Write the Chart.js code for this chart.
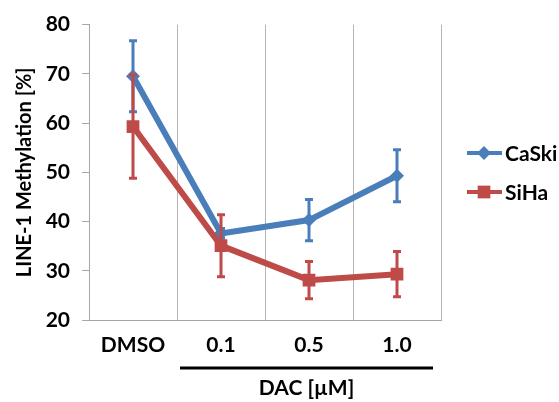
<!DOCTYPE html>
<html>
<head>
<meta charset="utf-8">
<script src="https://cdn.jsdelivr.net/npm/chart.js@4"></script>
<style>
  html, body { margin: 0; padding: 0; background: #fff; }
  #wrap { width: 559px; height: 402px; }
</style>
</head>
<body>
<div id="wrap"><canvas id="chart"></canvas></div>
<script>
// data
const categories = ['DMSO', '0.1', '0.5', '1.0'];
const caskiValues = [69.5, 37.6, 40.3, 49.3];
const caskiErrors = [7.2, 1.0, 4.2, 5.3];
const sihaValues = [59.3, 35.1, 28.1, 29.3];
const sihaErrors = [10.5, 6.3, 3.8, 4.6];
const seriesNames = ['CaSki', 'SiHa'];
const yTicks = [20, 30, 40, 50, 60, 70, 80];

const BLUE = '#4A7EBB';
const RED = '#BE4B48';
const FONT = 'Lato, "Open Sans", sans-serif';

// error bars, drawn through the y scale
const errorBars = {
  id: 'errorBars',
  afterDatasetDraw(chart, args) {
    const ds = chart.data.datasets[args.index];
    const errs = ds.errors;
    if (!errs) return;
    const { ctx } = chart;
    const y = chart.scales.y;
    ctx.save();
    ctx.strokeStyle = ds.borderColor;
    ctx.lineWidth = 3;
    args.meta.data.forEach((pt, i) => {
      const v = ds.data[i];
      const top = y.getPixelForValue(v + errs[i]);
      const bot = y.getPixelForValue(v - errs[i]);
      ctx.beginPath();
      ctx.moveTo(pt.x, top); ctx.lineTo(pt.x, bot);
      ctx.moveTo(pt.x - 4, top); ctx.lineTo(pt.x + 4, top);
      ctx.moveTo(pt.x - 4, bot); ctx.lineTo(pt.x + 4, bot);
      ctx.stroke();
    });
    ctx.restore();
  }
};

// legend on the right plus the DAC bracket under the axis
const extras = {
  id: 'extras',
  afterDraw(chart) {
    const { ctx, chartArea } = chart;
    const x = chart.scales.x;
    ctx.save();
    ctx.font = 'bold 21px ' + FONT;
    ctx.textBaseline = 'middle';
    ctx.fillStyle = '#000';

    const items = [
      { name: seriesNames[0], color: BLUE, style: 'rectRot', r: 7, y: 153 },
      { name: seriesNames[1], color: RED, style: 'rect', r: 9, y: 192 }
    ];
    items.forEach(it => {
      ctx.strokeStyle = it.color;
      ctx.lineWidth = 4;
      ctx.beginPath();
      ctx.moveTo(467, it.y); ctx.lineTo(502, it.y);
      ctx.stroke();
      ctx.fillStyle = it.color;
      Chart.helpers.drawPoint(ctx, { pointStyle: it.style, radius: it.r, borderWidth: 0 }, 484, it.y);
      ctx.fillStyle = '#000';
      ctx.textAlign = 'left';
      ctx.fillText(it.name, 505, it.y + 1);
    });

    const p0 = x.getPixelForValue(0);
    const p1 = x.getPixelForValue(1);
    const x0 = (p0 + p1) / 2 + 3;
    const x1 = chartArea.right - 8;
    ctx.strokeStyle = '#000';
    ctx.lineWidth = 3;
    ctx.beginPath();
    ctx.moveTo(x0, 368); ctx.lineTo(x1, 368);
    ctx.stroke();
    ctx.textAlign = 'center';
    ctx.fillText('DAC [µM]', (x0 + x1) / 2, 388);
    ctx.restore();
  }
};

new Chart(document.getElementById('chart'), {
  type: 'line',
  data: {
    labels: categories,
    datasets: [
      {
        label: seriesNames[0],
        data: caskiValues,
        errors: caskiErrors,
        borderColor: BLUE,
        backgroundColor: BLUE,
        borderWidth: 6,
        pointStyle: 'rectRot',
        pointRadius: 7,
        pointBorderWidth: 0,
        tension: 0,
        order: 2
      },
      {
        label: seriesNames[1],
        data: sihaValues,
        errors: sihaErrors,
        borderColor: RED,
        backgroundColor: RED,
        borderWidth: 6,
        pointStyle: 'rect',
        pointRadius: 9,
        pointBorderWidth: 0,
        tension: 0,
        order: 1
      }
    ]
  },
  options: {
    responsive: true,
    maintainAspectRatio: false,
    animation: false,
    layout: { padding: { left: 13, right: 118, top: 23, bottom: 0 } },
    plugins: { legend: { display: false }, tooltip: { enabled: false } },
    scales: {
      x: {
        offset: true,
        grid: { offset: true, color: '#b5b5b5', lineWidth: 1, drawTicks: false },
        border: { color: '#a6a6a6' },
        ticks: { color: '#000', font: { family: FONT, size: 21, weight: 'bold' }, padding: 13 },
        afterFit(s) { s.height = 82; }
      },
      y: {
        min: 20,
        max: 80,
        afterBuildTicks(s) { s.ticks = yTicks.map(v => ({ value: v })); },
        grid: { drawOnChartArea: false, drawTicks: true, tickLength: 7, color: '#a6a6a6' },
        border: { color: '#a6a6a6' },
        ticks: { color: '#000', font: { family: FONT, size: 21, weight: 'bold' }, padding: 12 },
        title: {
          display: true,
          text: 'LINE-1 Methylation [%]',
          color: '#000',
          font: { family: FONT, size: 20, weight: 'bold' },
          padding: 0
        },
        afterFit(s) { s.width = 76; }
      }
    }
  },
  plugins: [errorBars, extras]
});
</script>
</body>
</html>
